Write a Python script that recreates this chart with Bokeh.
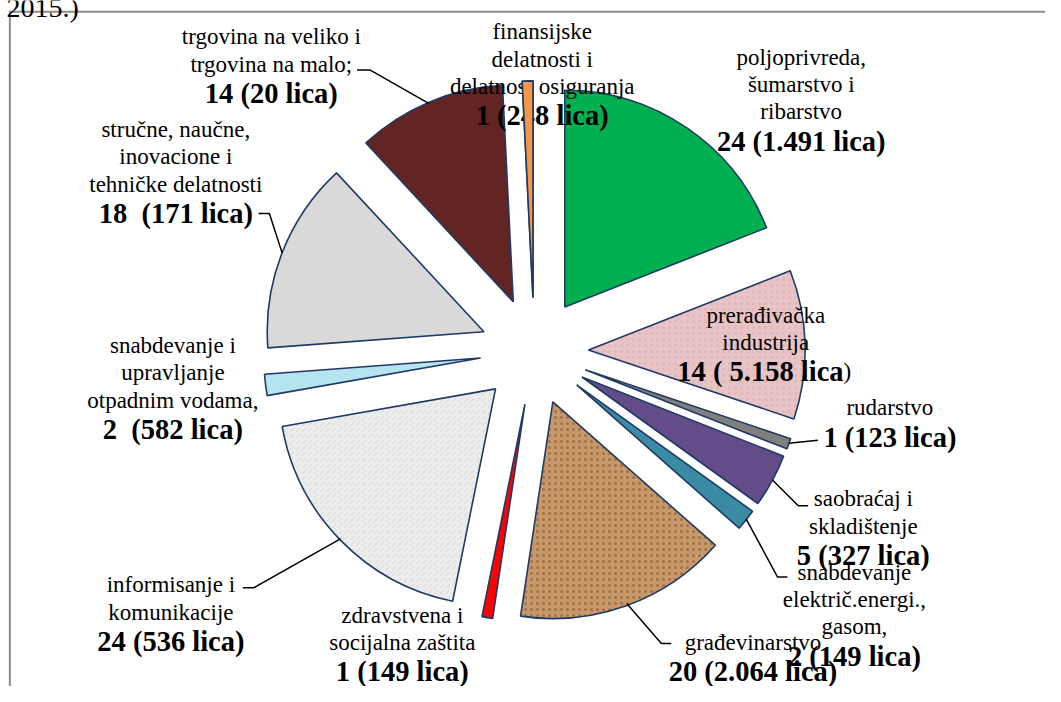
import math
from bokeh.plotting import figure
from bokeh.models import Range1d, ColumnDataSource, CDSView, IndexFilter
from bokeh.core.properties import value
from bokeh.embed import file_html
from bokeh.resources import INLINE

# ---------------- data ----------------
sectors = [
    "poljoprivreda, šumarstvo i ribarstvo",
    "prerađivačka industrija",
    "rudarstvo",
    "saobraćaj i skladištenje",
    "snabdevanje električ.energi., gasom",
    "građevinarstvo",
    "zdravstvena i socijalna zaštita",
    "informisanje i komunikacije",
    "snabdevanje i upravljanje otpadnim vodama",
    "stručne, naučne, inovacione i tehničke delatnosti",
    "trgovina na veliko i trgovina na malo",
    "finansijske delatnosti i delatnost osiguranja",
]
counts = [24, 14, 1, 5, 2, 20, 1, 24, 2, 18, 14, 1]
persons = ["1.491", "5.158", "123", "327", "149", "2.064", "149", "536", "582", "171", "20", "248"]
name_lines = [
    ["poljoprivreda,", "šumarstvo i", "ribarstvo"],
    ["prerađivačka", "industrija"],
    ["rudarstvo"],
    ["saobraćaj i", "skladištenje"],
    ["snabdevanje", "električ.energi.,", "gasom,"],
    ["građevinarstvo"],
    ["zdravstvena i", "socijalna zaštita"],
    ["informisanje i", "komunikacije"],
    ["snabdevanje i", "upravljanje", "otpadnim vodama,"],
    ["stručne, naučne,", "inovacione i", "tehničke delatnosti"],
    ["trgovina na veliko i", "trgovina na malo;"],
    ["finansijske", "delatnosti i", "delatnost osiguranja"],
]
bold_labels = ["24 (1.491 lica)", "14 ( 5.158 lica", "1 (123 lica)", "5 (327 lica)",
               "2 (149 lica)", "20 (2.064 lica)", "1 (149 lica)", "24 (536 lica)",
               "2 \u00a0(582 lica)", "18 \u00a0(171 lica)", "14 (20 lica)", "1 (248 lica)"]

# ---------------- styles / layout ----------------
colors = ["#00B050", "#E9C4C6", "#7F7F7F", "#634C87", "#3A8BA3", "#C7996A",
          "#FF0000", "#ECECEC", "#B5E3EE", "#D9D9D9", "#632523", "#F79646"]
hatches = [" ", "dot", " ", " ", " ", "dot", " ", "right_diagonal_dash", " ", " ", " ", " "]
hatch_cols = ["#000000", "#D3A9AB", "#000000", "#000000", "#000000", "#7A4A22",
              "#000000", "#BDBDBD", "#000000", "#000000", "#000000", "#000000"]
W, H = 1061, 702
CX, CY = 542, H - 359
R = 220
EXPLODE = 55
label_pos = [(813, 58), (777, 322), (903, 417), (876, 510), (867, 585), (764, 657),
             (408, 629), (173, 598), (175, 353), (178, 132), (275, 37), (550, 32)]
LINE_STEP = 28
BOLD_GAP = 30
NORMAL_SIZE = value("23px")
BOLD_SIZE = value("28.5px")
# label-side points of the leader lines (reference pixel coords), slice side computed
leaders = {
    2: [(830, 450)],
    3: [(820, 517), (810, 517)],
    4: [(799, 590), (789, 590)],
    5: [(681, 658), (671, 658)],
    7: [(246, 601), (257, 601)],
    9: [(262, 218), (273, 218)],
    10: [(362, 71), (375, 71)],
}

total = sum(counts)
xs, ys, starts, ends = [], [], [], []
mids = []
cum = 0.0
for c in counts:
    a1 = cum / total * 360.0
    a2 = (cum + c) / total * 360.0
    cum += c
    mid = (a1 + a2) / 2
    mids.append(mid)
    xs.append(CX + EXPLODE * math.sin(math.radians(mid)))
    ys.append(CY + EXPLODE * math.cos(math.radians(mid)))
    starts.append(math.radians(90 - a2))
    ends.append(math.radians(90 - a1))

src = ColumnDataSource(dict(x=xs, y=ys, start=starts, end=ends, color=colors,
                            hatch=hatches, hcol=hatch_cols, name=sectors, count=counts))

p = figure(width=1045, height=686, x_range=Range1d(0, W), y_range=Range1d(0, H),
           output_backend="svg", toolbar_location=None, min_border=0)
p.axis.visible = False
p.grid.visible = False
p.outline_line_color = None
p.background_fill_color = "white"

FONT = value("Liberation Serif")

def add_label(i):
    lx, ly = label_pos[i]
    lines = name_lines[i]
    p.text(x=[lx] * len(lines), y=[H - (ly + k * LINE_STEP) for k in range(len(lines))],
           text=lines, text_font=FONT, text_font_size=NORMAL_SIZE,
           text_align="center", text_baseline="middle", text_color="black")
    by = H - (ly + (len(lines) - 1) * LINE_STEP + BOLD_GAP)
    if i == 1:
        p.text(x=[856], y=[by], text=[bold_labels[i]], text_font=FONT, text_font_size=BOLD_SIZE,
               text_font_style="bold", text_align="right", text_baseline="middle", text_color="black")
        p.text(x=[856], y=[by], text=[")"], text_font=FONT, text_font_size=NORMAL_SIZE,
               text_align="left", text_baseline="middle", text_color="black")
    else:
        p.text(x=[lx], y=[by], text=[bold_labels[i]], text_font=FONT, text_font_size=BOLD_SIZE,
               text_font_style="bold", text_align="center", text_baseline="middle", text_color="black")

# frame of the embedded figure
p.line(x=[9, W], y=[H - 11.5, H - 11.5], line_color="#8C8C8C", line_width=2)
p.line(x=[9.5, 9.5], y=[H - 11, 0], line_color="#8C8C8C", line_width=2)
p.text(x=[6], y=[H - 7], text=["2015.)"], text_font=FONT, text_font_size=value("28px"),
       text_align="left", text_baseline="alphabetic", text_color="black")

wedge_style = dict(radius=R, start_angle="start", end_angle="end", source=src,
                   fill_color="color", line_color="#1F3A64", line_width=1.6,
                   hatch_pattern="hatch", hatch_color="hcol", hatch_scale=6, hatch_alpha=0.5)
p.wedge(x="x", y="y", **wedge_style)

# finansijske label lies under the thin orange slice
add_label(11)
p.wedge(x="x", y="y", view=CDSView(filter=IndexFilter([11])), **wedge_style)

for i in range(len(counts) - 1):
    add_label(i)

for i, pts in leaders.items():
    m = math.radians(mids[i])
    ex = xs[i] + R * math.sin(m)
    ey = ys[i] + R * math.cos(m)
    lx = [q[0] for q in pts] + [ex]
    ly = [H - q[1] for q in pts] + [ey]
    p.line(x=lx, y=ly, line_color="black", line_width=1.5)

open("out.html", "w").write(file_html(p, INLINE))
